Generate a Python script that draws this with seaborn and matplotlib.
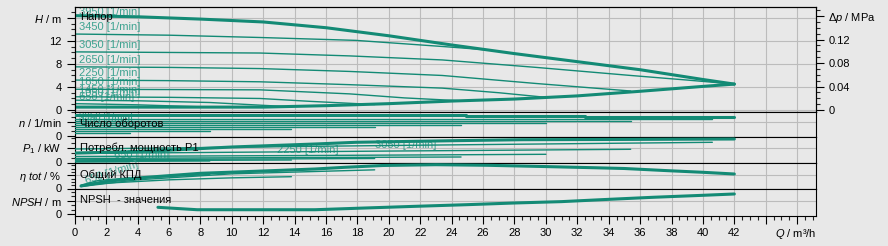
import matplotlib
matplotlib.use("Agg")
import matplotlib.pyplot as plt
import seaborn as sns
from matplotlib.ticker import MultipleLocator, FixedLocator, FixedFormatter

# ------------------------------------------------------------------ data
speeds = [3950, 3450, 3050, 2650, 2250, 1850, 1450, 1050, 650]

# --- head H (m) vs flow Q (m3/h)
q_max = [0, 4, 8, 12, 16, 20, 24, 28, 32, 36, 40, 42]
h_max = [16.4, 16.2, 15.8, 15.3, 14.3, 12.9, 11.3, 9.8, 8.4, 7.0, 5.3, 4.5]
q_low = [0, 4, 8, 12, 16, 20, 24, 28, 32, 36, 40, 42]
h_low = [0.5, 0.5, 0.5, 0.5, 0.75, 1.1, 1.55, 1.9, 2.45, 3.25, 4.1, 4.5]

q_h3450 = [0, 6, 11.8, 17.9, 23.6, 26]
h_h3450 = [13.2, 13.0, 12.6, 12.1, 11.0, 10.5]
q_h3050 = [0, 6, 11.8, 17.5, 23.4, 29.4, 35.4, 39, 42]
h_h3050 = [10.1, 10.0, 9.9, 9.4, 8.7, 7.4, 6.0, 5.2, 4.5]
q_h2650 = [0, 6, 11.8, 17.5, 23.4, 29.4, 35.4]
h_h2650 = [7.5, 7.4, 7.2, 6.7, 6.0, 4.6, 3.3]
q_h2250 = [0, 6, 11.8, 17.5, 23.4, 27, 30]
h_h2250 = [5.2, 5.1, 4.9, 4.4, 3.8, 3.0, 2.2]
q_h1850 = [0, 6, 11.8, 17.5, 21, 24.6]
h_h1850 = [3.6, 3.55, 3.5, 2.8, 2.1, 1.6]
q_h1450 = [0, 6, 11.8, 15, 19.1]
h_h1450 = [2.3, 2.2, 2.0, 1.5, 0.95]
q_h1050 = [0, 4, 8.6, 13.8]
h_h1050 = [1.7, 1.6, 1.3, 0.55]
q_h650 = [0, 4, 8.6]
h_h650 = [1.1, 0.9, 0.5]

# --- speed n (1/min)
q_nmax = [0, 24.9, 24.9, 32.5, 32.5, 42]
n_nmax = [4450, 4450, 4230, 4230, 3950, 3950]
n_end_q = [40.6, 35.4, 30.0, 24.6, 19.1, 13.8, 8.6, 3.5]   # for speeds[1:]

# --- power P1 (kW)
q_pmax = [0, 3, 5.6, 10, 15.3, 17.9, 24.1, 28.5, 35.5, 42]
p_pmax = [0.19, 0.21, 0.24, 0.31, 0.37, 0.404, 0.436, 0.456, 0.462, 0.47]
q_p3450 = [0, 20, 40.6];  p_p3450 = [0.27, 0.34, 0.404]
q_p3050 = [0, 18, 35.4];  p_p3050 = [0.18, 0.224, 0.264]
q_p2650 = [0, 15, 30];    p_p2650 = [0.12, 0.14, 0.164]
q_p2250 = [0, 12, 24.6];  p_p2250 = [0.08, 0.096, 0.11]
q_p1850 = [0, 19.1];      p_p1850 = [0.054, 0.08]
q_p1450 = [0, 13.8];      p_p1450 = [0.034, 0.05]
q_p1050 = [0, 8.6];       p_p1050 = [0.02, 0.03]
q_p650 = [0, 3.5];        p_p650 = [0.01, 0.014]
p_label_text = ["650 [1/min]", "2250 [1/min]", "3050 [1/min]"]
p_label_q = [2.5, 12.9, 19.1]
p_label_p = [0.14, 0.25, 0.344]

# --- efficiency eta (%)
q_emax = [0.4, 2, 4, 8, 12, 15.3, 17.2, 19.6, 23, 26.3, 29.8, 33, 35, 37.8, 40, 42]
e_emax = [3.75, 10.5, 15.75, 22.8, 26.25, 29.25, 31.8, 34.5, 35.7, 34.8, 33.0,
          31.2, 30.0, 26.7, 24.3, 21.75]
q_e1850 = [0.4, 4, 10, 19.1];  e_e1850 = [3.0, 13.0, 22.0, 28.0]
q_e1450 = [0.5, 2, 6, 10, 13.8]; e_e1450 = [4.5, 8.0, 13.0, 16.0, 17.7]
q_e1050 = [0.4, 2, 5, 8.6];    e_e1050 = [4.0, 11.0, 17.0, 21.0]
q_e650 = [0.4, 1.5, 3.5];      e_e650 = [5.0, 12.0, 16.0]

# --- NPSH (m)
q_npsh = [5.3, 7.8, 12, 15.3, 18.5, 21.7, 24.9, 28, 31, 33.5, 36.8, 40, 42]
v_npsh = [1.54, 1.01, 1.01, 1.01, 1.39, 1.76, 2.11, 2.49, 2.79, 3.21, 3.74, 4.18, 4.47]

x_tick_vals = list(range(0, 48, 2))
x_tick_labels = [str(v) for v in range(0, 43, 2)] + ["", ""]
q_axis_label = r"$\mathit{Q}$ / m³/h"

# ------------------------------------------------------------------ style
sns.set_theme(style="white")
BG = "#e8e8e8"
GRID = "#bcbcbc"
LINE = "#138a75"
LBL = "#3fa391"
plt.rcParams.update({
    "font.family": ["Liberation Sans", "DejaVu Sans"],
    "font.size": 8,
    "mathtext.fontset": "custom",
    "mathtext.rm": "Liberation Sans",
    "mathtext.it": "Liberation Sans:italic",
    "mathtext.bf": "Liberation Sans:bold",
    "axes.edgecolor": "black",
    "axes.linewidth": 0.8,
})

W_PX, H_PX = 888, 246
fig = plt.figure(figsize=(W_PX / 100, H_PX / 100), dpi=100, facecolor=BG)
LEFT, RIGHT = 74.7, 816.0


def make_ax(ytop, ybot):
    ax = fig.add_axes([LEFT / W_PX, 1 - ybot / H_PX, (RIGHT - LEFT) / W_PX,
                       (ybot - ytop) / H_PX])
    ax.set_facecolor(BG)
    ax.set_xlim(0, 47.2)
    ax.set_xticks(x_tick_vals)
    ax.grid(axis="x", color=GRID, lw=0.8)
    ax.grid(axis="y", visible=False)
    ax.tick_params(axis="x", length=0, labelbottom=False)
    ax.tick_params(axis="y", which="major", direction="out", length=6, width=0.8,
                   left=True, right=False, labelsize=8, pad=3.5, colors="black")
    ax.tick_params(axis="y", which="minor", direction="out", length=3, width=0.8,
                   left=True, right=False)
    for s in ax.spines.values():
        s.set_color("black")
        s.set_linewidth(0.8)
    ax.set_axisbelow(True)
    return ax


def curve(ax, q, v, thick=False):
    sns.lineplot(x=q, y=v, ax=ax, color=LINE, lw=2.2 if thick else 1.0,
                 estimator=None, sort=False, legend=False, zorder=3)


def ylab(ax, zero, val, text, minor):
    ax.yaxis.set_major_locator(FixedLocator([zero, val]))
    ax.yaxis.set_major_formatter(FixedFormatter(["0", text]))
    ax.yaxis.set_minor_locator(MultipleLocator(minor))
    ax.axhline(val, color=GRID, lw=0.8, zorder=0)


# ---- top panel: head
ax_h = make_ax(7, 112)
h_lim = (-0.35, 17.9)
ax_h.set_ylim(*h_lim)
ax_h.yaxis.set_major_locator(FixedLocator([0, 4, 8, 12, 16]))
ax_h.yaxis.set_major_formatter(FixedFormatter(["0", "4", "8", "12", r"$\mathit{H}$ / m"]))
ax_h.yaxis.set_minor_locator(MultipleLocator(1))
for v in [0, 4, 8, 12, 16]:
    ax_h.axhline(v, color=GRID, lw=0.8, zorder=0)

h_curves = [(q_h3450, h_h3450), (q_h3050, h_h3050), (q_h2650, h_h2650),
            (q_h2250, h_h2250), (q_h1850, h_h1850), (q_h1450, h_h1450),
            (q_h1050, h_h1050), (q_h650, h_h650)]
curve(ax_h, q_max, h_max, thick=True)
curve(ax_h, q_low, h_low, thick=True)
for q, h in h_curves:
    curve(ax_h, q, h)
label_h0 = [h_max[0]] + [h[0] for _, h in h_curves]
for s, h0 in zip(speeds, label_h0):
    off = 0.6 if s == 3950 else 1.2
    ax_h.text(0.3, h0 + off, f"{s} [1/min]", color=LBL, fontsize=8,
              ha="left", va="center", zorder=2)
ax_h.text(0.35, 16.2, "Напор", color="black", fontsize=8, ha="left",
          va="center", zorder=4)

# right axis: delta p
axr = ax_h.twinx()
axr.set_ylim(h_lim[0] * 0.00981, h_lim[1] * 0.00981)
axr.yaxis.set_major_locator(FixedLocator([0, 0.04, 0.08, 0.12, 0.16]))
axr.yaxis.set_major_formatter(FixedFormatter(["0", "0.04", "0.08", "0.12",
                                              r"$\Delta\mathit{p}$ / MPa"]))
axr.yaxis.set_minor_locator(MultipleLocator(0.01))
axr.tick_params(axis="y", which="major", direction="out", length=6, width=0.8,
                right=True, left=False, labelsize=8, pad=3, colors="black")
axr.tick_params(axis="y", which="minor", direction="out", length=3, width=0.8,
                right=True, left=False)
axr.grid(False)
for s in axr.spines.values():
    s.set_color("black")
    s.set_linewidth(0.8)

# ---- speed panel
ax_n = make_ax(112, 137.3)
ax_n.set_ylim(-270, 5000)
ylab(ax_n, 0, 3000, r"$\mathit{n}$ / 1/min", 1000)
for s in speeds[:2]:
    ax_n.text(0.3, s + 100, f"{s} [1/min]", color=LBL, fontsize=7,
              ha="left", va="center", zorder=2)
curve(ax_n, q_nmax, n_nmax, thick=True)
for s, qe in zip(speeds[1:], n_end_q):
    curve(ax_n, [0, qe], [s, s])
ax_n.text(0.35, 2500, "Число оборотов", color="black", fontsize=8,
          ha="left", va="center", zorder=4)

# ---- power panel
ax_p = make_ax(137.3, 163.3)
ax_p.set_ylim(-0.016, 0.504)
ylab(ax_p, 0, 0.3, r"$\mathit{P}_{\mathit{1}}$ / kW", 0.1)
for t, q, p in zip(p_label_text, p_label_q, p_label_p):
    ax_p.text(q, p, t, color=LBL, fontsize=8, ha="left", va="center", zorder=2)
curve(ax_p, q_pmax, p_pmax, thick=True)
for q, p in [(q_p3450, p_p3450), (q_p3050, p_p3050), (q_p2650, p_p2650),
             (q_p2250, p_p2250), (q_p1850, p_p1850), (q_p1450, p_p1450),
             (q_p1050, p_p1050), (q_p650, p_p650)]:
    curve(ax_p, q, p)
ax_p.text(0.35, 0.29, "Потребл. мощность P1", color="black", fontsize=8,
          ha="left", va="center", zorder=4)

# ---- efficiency panel
ax_e = make_ax(163.3, 189.3)
ax_e.set_ylim(-1.2, 37.8)
ylab(ax_e, 0, 20, r"$\mathit{\eta\ tot}$ / %", 5)
ax_e.text(0.6, 3.0, "650 [1/min]", color=LBL, fontsize=8, ha="left",
          va="bottom", rotation=18, zorder=2)
curve(ax_e, q_emax, e_emax, thick=True)
for q, e in [(q_e1850, e_e1850), (q_e1450, e_e1450), (q_e1050, e_e1050),
             (q_e650, e_e650)]:
    curve(ax_e, q, e)
ax_e.text(0.35, 20, "Общий КПД", color="black", fontsize=8, ha="left",
          va="center", zorder=4)

# ---- NPSH panel
ax_s = make_ax(189.3, 216)
ax_s.set_ylim(-0.37, 5.5)
ylab(ax_s, 0, 3, r"$\mathit{NPSH}$ / m", 1)
curve(ax_s, q_npsh, v_npsh, thick=True)
ax_s.text(0.35, 3.1, "NPSH  - значения", color="black", fontsize=8,
          ha="left", va="center", zorder=4)
ax_s.tick_params(axis="x", which="major", direction="out", length=6, width=0.8,
                 bottom=True, labelbottom=True, labelsize=8, pad=3, colors="black")
ax_s.tick_params(axis="x", which="minor", direction="out", length=3, width=0.8,
                 bottom=True)
ax_s.xaxis.set_major_formatter(FixedFormatter(x_tick_labels))
ax_s.xaxis.set_minor_locator(MultipleLocator(0.5))
ax_s.annotate(q_axis_label, xy=(45.9, 0), xycoords=("data", "axes fraction"),
              xytext=(0, -15), textcoords="offset points", ha="center",
              va="baseline", fontsize=8, color="black", annotation_clip=False)

fig.savefig("out.png", dpi=100, facecolor=BG)
